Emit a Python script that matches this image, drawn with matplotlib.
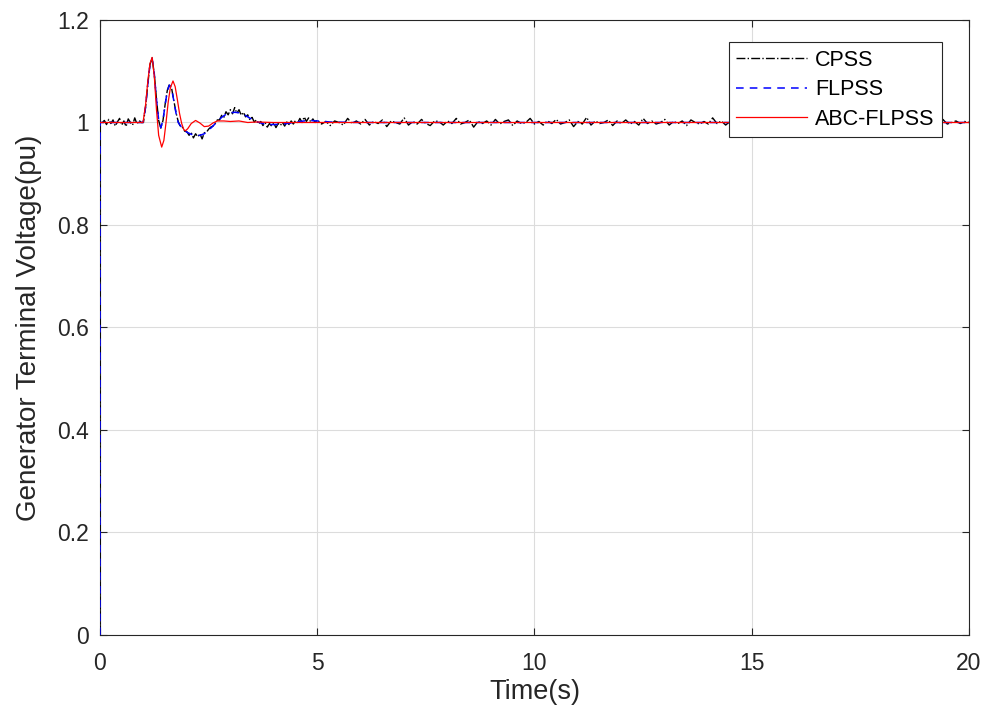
import numpy as np
import matplotlib
matplotlib.use("Agg")
import matplotlib.pyplot as plt

plt.rcParams["font.family"] = ["Liberation Sans", "DejaVu Sans"]

# ---------------------------------------------------------------------------
# Data (time in s, voltage in pu)
# ---------------------------------------------------------------------------

# FLPSS: smooth response
flpss_t = [0.0, 0.002, 0.99, 1.05, 1.10, 1.15, 1.20, 1.25, 1.30, 1.35, 1.40,
           1.45, 1.50, 1.55, 1.60, 1.65, 1.70, 1.75, 1.80, 1.90, 2.00, 2.10,
           2.20, 2.30, 2.40, 2.50, 2.60, 2.70, 2.80, 2.90, 3.00, 3.10, 3.20,
           3.30, 3.40, 3.50, 3.60, 3.70, 3.80, 3.90, 4.00, 4.20, 4.40, 4.60,
           4.80, 5.00, 5.30, 6.00, 20.0]
flpss_v = [0.0, 1.0, 1.0, 1.030, 1.075, 1.112, 1.125, 1.095, 1.045, 1.005,
           0.990, 1.005, 1.035, 1.062, 1.073, 1.065, 1.042, 1.018, 1.000,
           0.988, 0.981, 0.977, 0.975, 0.975, 0.978, 0.985, 0.993, 1.002,
           1.010, 1.016, 1.019, 1.020, 1.019, 1.016, 1.011, 1.006, 1.002,
           0.999, 0.997, 0.996, 0.996, 0.997, 0.999, 1.002, 1.004, 1.003,
           1.001, 1.0, 1.0]

# ABC-FLPSS: faster damping (its step at t=0 is hidden under FLPSS)
abc_t = [0.0, 0.99, 1.05, 1.10, 1.15, 1.20, 1.25, 1.30, 1.35, 1.42,
         1.47, 1.52, 1.57, 1.62, 1.68, 1.73, 1.78, 1.83, 1.88, 1.93, 1.97,
         2.02, 2.10, 2.20, 2.30, 2.40, 2.50, 2.60, 2.70, 2.85, 3.00, 3.20,
         3.40, 3.60, 4.00, 20.0]
abc_v = [1.0, 1.0, 1.035, 1.080, 1.115, 1.127, 1.090, 1.025, 0.975,
         0.952, 0.965, 1.000, 1.040, 1.068, 1.081, 1.070, 1.045, 1.018,
         0.998, 0.986, 0.984, 0.988, 0.998, 1.004, 0.999, 0.992, 0.993,
         0.999, 1.003, 1.003, 1.002, 1.003, 1.000, 1.001, 1.0, 1.0]

# CPSS: noisy response, start + transient
cpss_head_t = [0.0, 0.002, 0.05, 0.10, 0.15, 0.20, 0.25, 0.30, 0.35, 0.40,
               0.45, 0.50, 0.55, 0.60, 0.65, 0.70, 0.75, 0.80, 0.85, 0.90,
               0.95, 1.00, 1.05, 1.10, 1.15, 1.20, 1.25, 1.30, 1.35, 1.40,
               1.45, 1.50, 1.55, 1.60, 1.65, 1.70, 1.75, 1.80, 1.85, 1.90,
               1.95, 2.00, 2.05, 2.10, 2.15, 2.20, 2.25, 2.30, 2.35, 2.40,
               2.45, 2.50, 2.55, 2.60, 2.65, 2.70, 2.75, 2.80, 2.85, 2.90,
               2.95, 3.00, 3.05, 3.10, 3.15, 3.20, 3.25, 3.30, 3.35, 3.40,
               3.45, 3.50, 3.55, 3.60, 3.65, 3.70, 3.75, 3.80, 3.85, 3.90,
               3.95, 4.00, 4.05, 4.10, 4.15, 4.20, 4.25, 4.30, 4.35, 4.40,
               4.45, 4.50, 4.55, 4.60, 4.65, 4.70, 4.75, 4.80, 4.85, 4.90,
               4.95]
cpss_head_v = [0.0, 1.0, 1.000, 1.004, 0.996, 1.006, 0.998, 1.005, 0.993,
               1.001, 1.008, 0.995, 1.003, 0.992, 1.007, 1.000, 0.995, 1.009,
               0.997, 1.004, 1.000, 1.000, 1.031, 1.074, 1.113, 1.126, 1.094,
               1.046, 1.004, 0.989, 1.004, 1.036, 1.063, 1.075, 1.066, 1.043,
               1.019, 1.002, 0.992, 0.990, 0.983, 0.982, 0.975, 0.980, 0.970,
               0.978, 0.972, 0.978, 0.968, 0.980, 0.981, 0.987, 0.991, 0.993,
               0.998, 1.005, 1.005, 1.014, 1.010, 1.021, 1.015, 1.025, 1.017,
               1.029, 1.018, 1.025, 1.014, 1.020, 1.011, 1.015, 1.005, 1.010,
               1.001, 1.005, 0.997, 1.002, 0.994, 1.000, 0.991, 0.998, 0.993,
               0.999, 0.990, 0.998, 0.994, 1.000, 0.993, 1.001, 0.996, 1.003,
               0.997, 1.004, 0.999, 1.008, 1.000, 1.011, 1.002, 1.009, 1.001,
               1.007, 1.000]

# CPSS tail: deviation from 1 pu in thousandths, one value per 0.1 s from 5 s
cpss_tail_dev = [
    5, -3, 2, -6, 3, 0, -5, 8, -2, 3,
    -3, 6, -5, 2, -2, 5, -8, 3, 0, -3,
    9, -5, 2, -3, 6, -2, -6, 3, 2, -5,
    3, -2, 8, -3, 0, 5, -9, 2, -2, 3,
    -5, 6, -3, 2, 5, -6, 3, -2, 0, 8,
    -3, 2, -5, 3, -2, 6, -3, 0, 5, -8,
    2, -3, 10, -5, 3, -2, 0, 5, -6, 3,
    -2, 5, -3, 2, -5, 8, -2, 3, -3, 0,
    6, -5, 2, -2, 3, -6, 5, 0, -3, 2,
    -3, 9, -2, 3, -5, 2, 0, -6, 5, -2,
    3, -3, 2, 5, -8, 3, -2, 0, 6, -3,
    2, -5, 3, -2, 8, -3, 0, 2, -5, 3,
    -2, 5, -3, 0, 3, -6, 2, -2, 5, -3,
    6, -2, 0, -5, 3, 2, -3, 5, -2, 0,
    3, -5, 2, -2, 6, -3, 0, 3, -2, 2,
]

x_ticks = [0, 5, 10, 15, 20]
y_ticks = [0, 0.2, 0.4, 0.6, 0.8, 1.0, 1.2]
y_tick_labels = ["0", "0.2", "0.4", "0.6", "0.8", "1", "1.2"]

cpss_tail_t = 5.0 + 0.1 * np.arange(len(cpss_tail_dev))
cpss_tail_v = 1.0 + np.array(cpss_tail_dev) / 1000.0
cpss_t = np.concatenate([cpss_head_t, cpss_tail_t, [20.0]])
cpss_v = np.concatenate([cpss_head_v, cpss_tail_v, [1.0]])

# ---------------------------------------------------------------------------
# Figure
# ---------------------------------------------------------------------------

fig = plt.figure(figsize=(9.91, 7.17), dpi=100)
ax = fig.add_axes([0.1009, 0.1144, 0.8769, 0.8577])

ax.plot(cpss_t, cpss_v, color="black", lw=1.0, ls="-.", label="CPSS",
        zorder=3)
ax.plot(flpss_t, flpss_v, color="#0000ff", lw=1.1, ls=(0, (5, 4)),
        label="FLPSS", zorder=3.1)
ax.plot(abc_t, abc_v, color="#ff0000", lw=0.9, label="ABC-FLPSS",
        zorder=3.2)

ax.set_xlim(0, 20)
ax.set_ylim(0, 1.2)
ax.set_xticks(x_ticks)
ax.set_yticks(y_ticks)
ax.set_yticklabels(y_tick_labels)
ax.tick_params(direction="in", length=5, width=0.8, labelsize=16.5,
               colors="#262626", top=True, right=True)
ax.tick_params(axis="y", pad=8)
ax.tick_params(axis="x", pad=12)
ax.grid(True, color="#dcdcdc", lw=0.8)
ax.set_axisbelow(True)
for s in ax.spines.values():
    s.set_color("#262626")
    s.set_linewidth(0.8)

ax.set_xlabel("Time(s)", fontsize=19.5, color="#262626", labelpad=3)
ax.set_ylabel("Generator Terminal Voltage(pu)", fontsize=20,
              color="#262626", labelpad=11)

leg = ax.legend(loc="upper right", bbox_to_anchor=(0.969, 0.964),
                borderaxespad=0, fontsize=15.5, handlelength=3.3,
                fancybox=False, framealpha=1, edgecolor="#262626",
                borderpad=0.35, labelspacing=0.4, handletextpad=0.35)
leg.get_frame().set_linewidth(0.8)

fig.savefig("out.png", dpi=100)
